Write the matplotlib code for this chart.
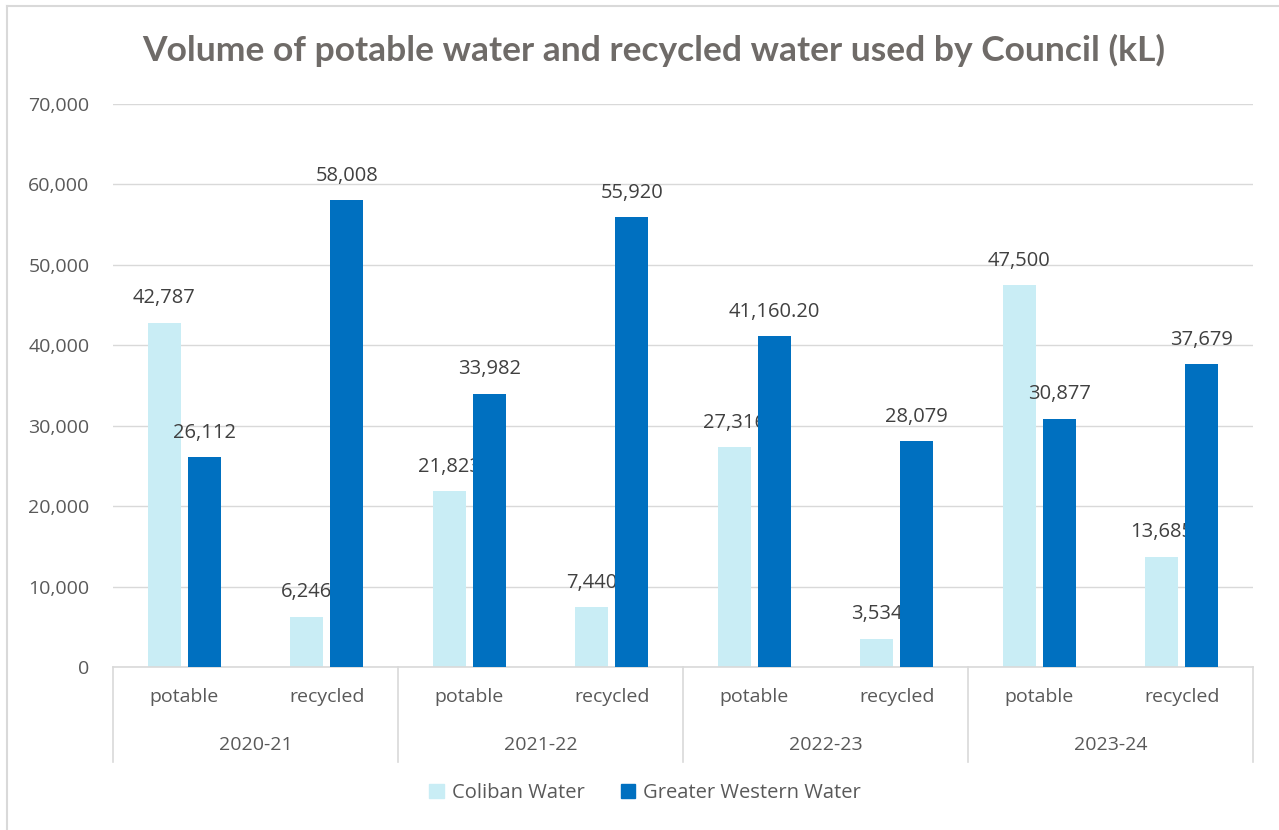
import matplotlib.pyplot as plt
import numpy as np
from matplotlib.patches import Patch
from matplotlib.lines import Line2D
from matplotlib.ticker import FuncFormatter

years = ["2020-21", "2021-22", "2022-23", "2023-24"]
water_types = ["potable", "recycled"]
coliban = [42787, 6246, 21823, 7440, 27316, 3534, 47500, 13685]
greater_western = [26112, 58008, 33982, 55920, 41160.20, 28079, 30877, 37679]
gww_labels = ["26,112", "58,008", "33,982", "55,920", "41,160.20", "28,079", "30,877", "37,679"]

light_blue = "#C9EDF5"
dark_blue = "#0070C0"
grid_col = "#D9D9D9"
txt_col = "#595959"

plt.rcParams["font.family"] = ["Open Sans", "DejaVu Sans"]

fig = plt.figure(figsize=(12.79, 8.30), dpi=100)
ax = fig.add_axes([113 / 1279, 1 - 667 / 830, (1253 - 113) / 1279, (667 - 104) / 830])

n = len(coliban)
x = np.arange(n) + 0.5
w = 0.23
off = 0.14

b1 = ax.bar(x - off, coliban, w, color=light_blue, zorder=2)
b2 = ax.bar(x + off, greater_western, w, color=dark_blue, zorder=4)

# value labels above each bar (Coliban labels sit behind the dark bars)
for xi, v in zip(x - off, coliban):
    ax.annotate(f"{v:,.0f}", (xi, v), xytext=(0, 14), textcoords="offset points",
                ha="center", va="baseline", fontsize=14.5, color="#404040", zorder=3)
for xi, v, lab in zip(x + off, greater_western, gww_labels):
    ax.annotate(lab, (xi, v), xytext=(0, 14), textcoords="offset points",
                ha="center", va="baseline", fontsize=14.5, color="#404040", zorder=5)

ax.set_xlim(0, n)
ax.set_ylim(0, 70000)
ax.set_yticks(np.arange(0, 70001, 10000))
ax.yaxis.set_major_formatter(FuncFormatter(lambda v, p: f"{v:,.0f}"))
ax.tick_params(axis="y", length=0, pad=17, labelsize=14, labelcolor=txt_col)
ax.grid(axis="y", color=grid_col, lw=1, zorder=0)
ax.set_axisbelow(True)
for s in ["top", "right", "left"]:
    ax.spines[s].set_visible(False)
ax.spines["bottom"].set_color(grid_col)
ax.spines["bottom"].set_linewidth(1.2)

# two-level category axis
ax.set_xticks([])
axh = 667 - 104
trans = ax.get_xaxis_transform()
for i, xi in enumerate(x):
    ax.text(xi, -30 / axh, water_types[i % 2], transform=trans, ha="center", va="center",
            fontsize=14, color=txt_col)
for j, yr in enumerate(years):
    ax.text(2 * j + 1, -78 / axh, yr, transform=trans, ha="center", va="center",
            fontsize=14, color=txt_col)
for k in range(0, n + 1, 2):
    ax.plot([k, k], [0, -95 / axh], transform=trans, color=grid_col, lw=1.2, clip_on=False)

fig.text(654 / 1279, 1 - 50 / 830, "Volume of potable water and recycled water used by Council (kL)",
         ha="center", va="center", fontsize=25.5, fontweight="bold", color="#6F6B68",
         family=["Lato", "DejaVu Sans"])

handles = [Patch(color=light_blue, label="Coliban Water"),
           Patch(color=dark_blue, label="Greater Western Water")]
fig.legend(handles=handles, loc="center", bbox_to_anchor=(645 / 1279, 1 - 793 / 830), ncol=2,
           frameon=False, fontsize=14.5, labelcolor=txt_col, handlelength=0.7, handleheight=0.7,
           handletextpad=0.4, columnspacing=1.8)

# outer chart frame
fig.add_artist(Line2D([7 / 1279, 7 / 1279], [0, 1 - 6 / 830], color=grid_col, lw=1.5))
fig.add_artist(Line2D([7 / 1279, 1], [1 - 6 / 830, 1 - 6 / 830], color=grid_col, lw=1.5))

fig.savefig("out.png", dpi=100)
